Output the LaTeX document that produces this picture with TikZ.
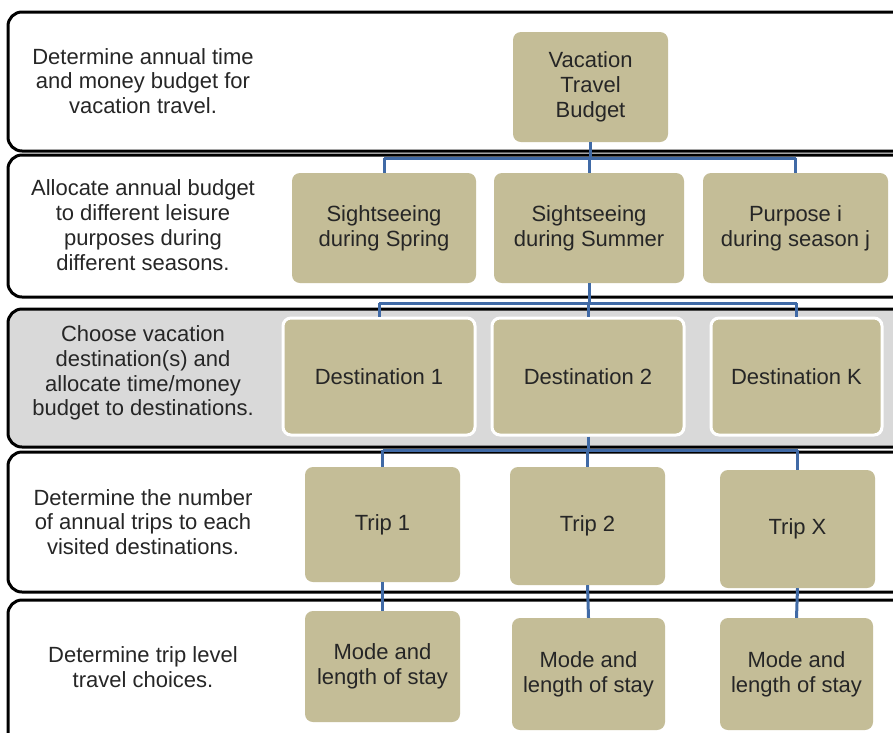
\documentclass[tikz,border=0pt]{standalone}
\usepackage{fontspec}
\setmainfont{Liberation Sans}
\definecolor{tan}{RGB}{196,189,151}
\definecolor{conn}{RGB}{64,106,166}
\definecolor{txt}{RGB}{38,38,38}
\definecolor{bandgray}{RGB}{217,217,217}
\begin{document}
\begin{tikzpicture}[x=1pt,y=-1pt,
  band/.style={draw=black,line width=3pt,rounded corners=14pt},
  box/.style={fill=tan,rounded corners=8pt,text=txt,align=center,inner sep=0pt,
    font=\fontsize{22}{24.8}\selectfont},
  dbox/.style={box,draw=white,line width=3pt},
  lbl/.style={text=txt,align=center,inner sep=0pt,font=\fontsize{22}{24.8}\selectfont},
  link/.style={draw=conn,line width=3pt}]
\useasboundingbox (0,0) rectangle (893,732);
\clip (0,0) rectangle (893,732);
\fill[white] (0,0) rectangle (893,732);
% bands
\draw[band] (8,12) rectangle (912,151);
\draw[band] (8,155) rectangle (912,297);
\draw[band,fill=bandgray] (8,309) rectangle (912,447);
\draw[band] (8,452) rectangle (912,592);
\draw[band] (8,600) rectangle (912,748);
% left labels
\node[lbl] (L1) at (143,81) {Determine annual time\\and money budget for\\vacation travel.};
\node[lbl] (L2) at (143,225) {Allocate annual budget\\to different leisure\\purposes during\\different seasons.};
\node[lbl] (L3) at (143,373) {Choose vacation\\destination(s) and\\allocate time/money\\budget to destinations.};
\node[lbl] (L4) at (143,522) {Determine the number\\of annual trips to each\\visited destinations.};
\node[lbl] (L5) at (143,667) {Determine trip level\\travel choices.};
% coordinates for bars
\coordinate (j1) at (590,158);
\coordinate (j2) at (590,303);
\coordinate (j3) at (590,450);
% nodes
\node[box,minimum width=155pt,minimum height=110pt] (VTB) at (590.5,87) {Vacation\\Travel\\Budget};
\node[box,minimum width=184pt,minimum height=110pt] (S1) at (384,228) {Sightseeing\\during Spring};
\node[box,minimum width=190pt,minimum height=110pt] (S2) at (589,228) {Sightseeing\\during Summer};
\node[box,minimum width=185pt,minimum height=110pt] (S3) at (795.5,228) {Purpose i\\during season j};
\node[dbox,minimum width=192pt,minimum height=117pt] (D1) at (379,376.5) {Destination 1};
\node[dbox,minimum width=192pt,minimum height=117pt] (D2) at (588,376.5) {Destination 2};
\node[dbox,minimum width=171pt,minimum height=117pt] (DK) at (796.5,376.5) {Destination K};
\node[box,minimum width=155pt,minimum height=115pt] (T1) at (382.5,524.5) {Trip 1};
\node[box,minimum width=155pt,minimum height=118pt] (T2) at (587.5,526) {Trip 2};
\node[box,minimum width=155pt,minimum height=118pt] (TX) at (797.5,529) {Trip X};
\node[box,minimum width=155pt,minimum height=111pt] (M1) at (382.5,666.5) {Mode and\\length of stay};
\node[box,minimum width=153pt,minimum height=112pt] (M2) at (588.5,674) {Mode and\\length of stay};
\node[box,minimum width=153pt,minimum height=112pt] (M3) at (796.5,674) {Mode and\\length of stay};
% connectors
\draw[link] (VTB.south) -- (VTB.south |- j1);
\draw[link] (S1.north |- j1) -- (S3.north |- j1);
\draw[link] (S1.north |- j1) -- (S1.north);
\draw[link] (S2.north |- j1) -- (S2.north);
\draw[link] (S3.north |- j1) -- (S3.north);
\draw[link] (S2.south) -- (S2.south |- j2);
\draw[link] (D1.north |- j2) -- (DK.north |- j2);
\draw[link] (D1.north |- j2) -- (D1.north);
\draw[link] (D2.north |- j2) -- (D2.north);
\draw[link] (DK.north |- j2) -- (DK.north);
\draw[link] (D2.south) -- (D2.south |- j3);
\draw[link] (T1.north |- j3) -- (TX.north |- j3);
\draw[link] (T1.north |- j3) -- (T1.north);
\draw[link] (T2.north |- j3) -- (T2.north);
\draw[link] (TX.north |- j3) -- (TX.north);
\draw[link] (T1.south) -- (M1.north);
\draw[link] (T2.south) -- (M2.north);
\draw[link] (TX.south) -- (M3.north);
\end{tikzpicture}
\end{document}
